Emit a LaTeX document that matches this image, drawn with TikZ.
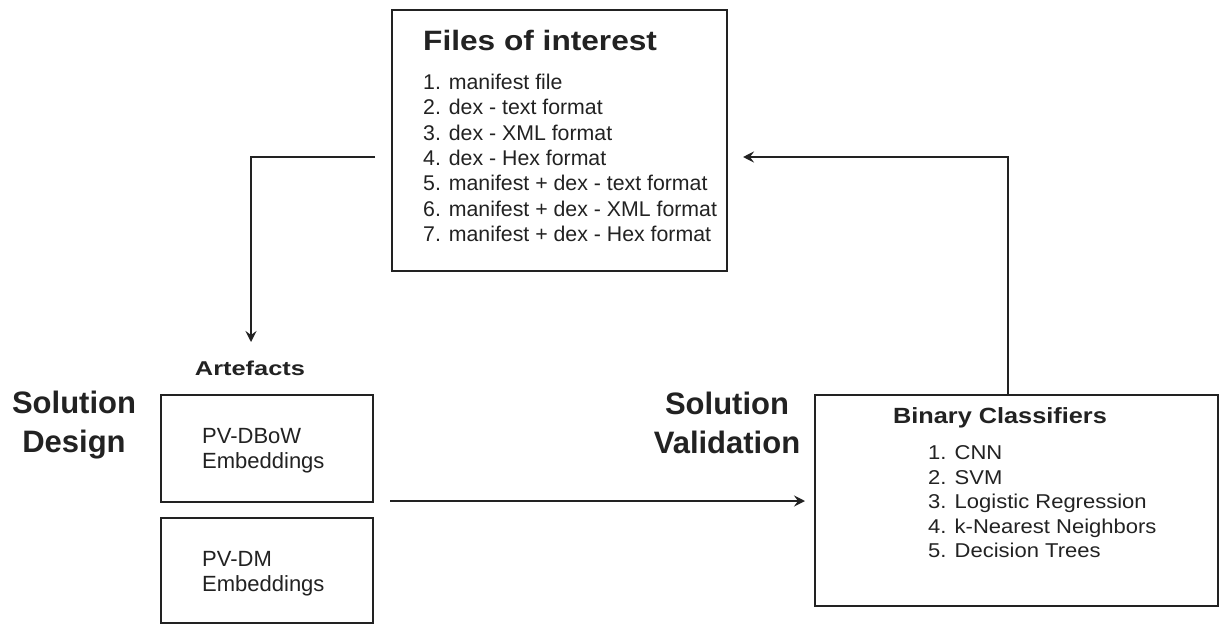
\documentclass[tikz,border=0pt]{standalone}
\usepackage{fontspec}
\setmainfont{Liberation Sans}
\usetikzlibrary{arrows.meta,calc}
\newcommand{\wide}[2]{\scalebox{#1}[1]{#2}}
\definecolor{ink}{HTML}{222222}
\tikzset{
  box/.style={draw=ink, line width=2pt, rectangle, inner sep=0pt},
  conn/.style={draw=ink, line width=2pt},
  arr/.style={conn, -{Stealth[length=11pt,width=11pt,inset=4pt]}},
  label/.style={inner sep=0pt, text=ink},
  head/.style={label, font=\bfseries\fontsize{31}{36}\selectfont, align=center},
  fileitem/.style={label, anchor=base west, font=\fontsize{21.3}{25}\selectfont},
  binitem/.style={label, anchor=base west, font=\fontsize{20}{24}\selectfont},
  pvtext/.style={label, anchor=base west, font=\fontsize{22}{26}\selectfont},
}
\begin{document}
\begin{tikzpicture}[x=1pt, y=-1pt]
  \useasboundingbox (0,0) rectangle (1220,626);
  \fill[white] (0,0) rectangle (1220,626);

  % boxes
  \node[box, minimum width=335pt, minimum height=261pt] (files) at (559.5,140.5) {};
  \node[box, minimum width=212pt, minimum height=107pt] (dbow) at (267,448.5) {};
  \node[box, minimum width=212pt, minimum height=105pt] (dm) at (267,570.5) {};
  \node[box, minimum width=403pt, minimum height=211pt] (bin) at (1016.5,500.5) {};

  % files of interest
  \node[label, anchor=base west, font=\bfseries\fontsize{28}{32}\selectfont]
    (filestitle) at (423,51) {\wide{1.13}{Files of interest}};
  \foreach \t [count=\i] in {1. manifest file, 2. dex - text format,
      3. dex - XML format, 4. dex - Hex format, 5. manifest + dex - text format,
      6. manifest + dex - XML format, 7. manifest + dex - Hex format}
    \node[fileitem] (file\i) at (423,{89.5+25.3*(\i-1)}) {\t};

  % artefacts
  \node[label, anchor=base, font=\bfseries\fontsize{20}{24}\selectfont]
    (art) at (250,375) {\wide{1.27}{Artefacts}};
  \node[pvtext] (dbow1) at (202,443) {PV-DBoW};
  \node[pvtext] (dbow2) at (202,468) {Embeddings};
  \node[pvtext] (dm1) at (202,566) {PV-DM};
  \node[pvtext] (dm2) at (202,591) {Embeddings};

  % side headings
  \node[head, anchor=base] (sd1) at (74,413) {Solution};
  \node[head, anchor=base] (sd2) at (74,452) {Design};
  \node[head, anchor=base] (sv1) at (727,414) {Solution};
  \node[head, anchor=base] (sv2) at (727,453) {Validation};

  % binary classifiers
  \node[label, anchor=base, font=\bfseries\fontsize{22}{26}\selectfont]
    (bintitle) at (1000,423) {\wide{1.15}{Binary Classifiers}};
  \foreach \t [count=\i] in {1. CNN, 2. SVM, 3. Logistic Regression,
      4. k-Nearest Neighbors, 5. Decision Trees}
    \node[binitem] (bin\i) at (928,{459.5+24.5*(\i-1)}) {\wide{1.1}{\t}};

  % connectors
  \coordinate (fout) at (375,157);
  \coordinate (fdown) at (251,342);
  \coordinate (aout) at (390,501);
  \coordinate (bin in) at (805,501);
  \coordinate (fin) at (743,157);

  \draw[arr] (fout) -| (fdown);
  \draw[arr] (aout) -- (bin in);
  \draw[arr] ([xshift=-8.5pt]bin.north) |- (fin);
\end{tikzpicture}
\end{document}
